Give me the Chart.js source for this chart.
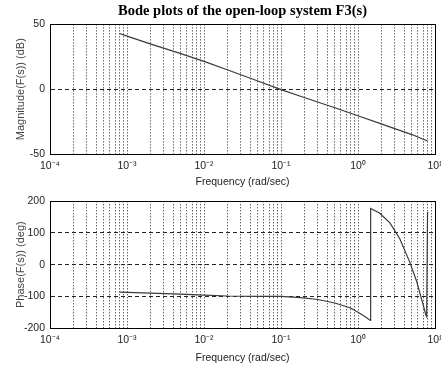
<!DOCTYPE html>
<html>
<head>
<meta charset="utf-8">
<script src="https://cdn.jsdelivr.net/npm/chart.js@4/dist/chart.umd.min.js"></script>
<style>
    html, body { margin: 0; padding: 0; background: #fff; }
    .box { position: absolute; left: 0; width: 441px; }
    #magBox { top: 0; height: 190px; }
    #phaseBox { top: 190px; height: 184px; }
</style>
</head>
<body>
<div class="box" id="magBox"><canvas id="magChart"></canvas></div>
<div class="box" id="phaseBox"><canvas id="phaseChart"></canvas></div>
<script>
// magnitude curve (rad/sec, dB)
const magFreq = [0.0008, 0.001, 0.002, 0.005, 0.01, 0.02, 0.05, 0.1, 0.2, 0.5, 1, 2, 5, 8];
const magDb = [43, 41, 35, 27.5, 21.5, 15, 6.3, -0.3, -6.4, -14.3, -20.5, -26.8, -35, -40];

// phase curve (rad/sec, deg)
const phaseFreq = [0.0008, 0.002, 0.005, 0.01, 0.02, 0.05, 0.1, 0.18, 0.3, 0.5, 0.8, 1.0, 1.2, 1.45,
    1.46, 1.9, 2.6, 3.5, 4.7, 5.8, 7.0, 7.6, 7.8, 8.0];
const phaseDeg = [-87, -90, -93, -96, -99, -100, -100, -104, -110, -121, -137, -150, -162, -176,
    177, 163, 132, 81, 8, -54, -126, -158, -164, 166];

const magTicks = [-50, 0, 50];
const phaseTicks = [-200, -100, 0, 100, 200];

const TEXT = "#222";
const SANS = "'Liberation Sans', Arial, sans-serif";
const SUP = { "-": "\u207B", "0": "\u2070", "1": "\u00B9", "2": "\u00B2", "3": "\u00B3", "4": "\u2074" };

// every 1..9 x 10^k line of the log grid
const freqGrid = [];
for (let k = -4; k <= 0; k++) {
    for (let s = 1; s <= 9; s++) freqGrid.push(s * Math.pow(10, k));
}
freqGrid.push(10);

function decadeLabel(v) {
    const e = Math.round(Math.log10(v));
    if (Math.abs(v - Math.pow(10, e)) > 1e-9 * Math.pow(10, e)) return "";
    return "10" + String(e).split("").map((c) => SUP[c]).join("");
}

const frame = {
    id: "frame",
    afterDraw(chart) {
        const { ctx, chartArea: a } = chart;
        ctx.save();
        ctx.strokeStyle = "#000";
        ctx.lineWidth = 1;
        ctx.strokeRect(Math.round(a.left) + 0.5, Math.round(a.top) + 0.5,
            Math.round(a.right - a.left), Math.round(a.bottom - a.top));
        ctx.restore();
    },
};

function makeChart(id, freq, vals, yTicks, yTitle, opts) {
    const ctx = document.getElementById(id);

    return new Chart(ctx, {
        type: "scatter",

        data: {
            datasets: [
                {
                    data: freq.map((f, i) => ({ x: f, y: vals[i] })),
                    showLine: true,
                    borderColor: "#3a3a3a",
                    borderWidth: 1.2,
                    pointRadius: 0,
                    tension: 0,
                },
            ],
        },

        options: {
            responsive: true,
            maintainAspectRatio: false,
            animation: false,

            layout: {
                padding: { top: opts.padTop, right: 6, bottom: 0, left: 0 },
            },

            plugins: {
                legend: { display: false },
                tooltip: { enabled: false },
                title: {
                    display: !!opts.title,
                    text: opts.title,
                    fullSize: false,
                    color: "#000",
                    font: { family: "'Liberation Serif', 'Times New Roman', serif", size: 14.5, weight: "bold" },
                    padding: { top: 3, bottom: 4 },
                },
            },

            scales: {
                x: {
                    type: "logarithmic",
                    min: 1e-4,
                    max: 10,
                    afterBuildTicks: (s) => {
                        s.ticks = freqGrid.map((v) => ({ value: v }));
                    },
                    afterFit: (s) => {
                        s.height = opts.xHeight;
                        s.paddingLeft = 0;
                        s.paddingRight = 0;
                    },
                    grid: { color: "#222", lineWidth: 1, drawTicks: false },
                    border: { dash: [1, 2], color: "#000" },
                    ticks: {
                        autoSkip: false,
                        maxRotation: 0,
                        padding: 6,
                        color: TEXT,
                        font: { family: SANS, size: 10.5 },
                        callback: (v) => decadeLabel(v),
                    },
                    title: {
                        display: true,
                        text: "Frequency (rad/sec)",
                        color: TEXT,
                        font: { family: SANS, size: 10.5 },
                        padding: { top: 0, bottom: opts.xTitlePad },
                    },
                },

                y: {
                    min: yTicks[0],
                    max: yTicks[yTicks.length - 1],
                    afterBuildTicks: (s) => {
                        s.ticks = yTicks.map((v) => ({ value: v }));
                    },
                    afterFit: (s) => {
                        s.width = 50;
                    },
                    grid: { color: "#222", lineWidth: 1, drawTicks: false },
                    border: { dash: [4, 3], color: "#000" },
                    ticks: {
                        padding: 5,
                        color: TEXT,
                        font: { family: SANS, size: 10.5 },
                    },
                    title: {
                        display: true,
                        text: yTitle,
                        color: "#444",
                        font: { family: SANS, size: 11 },
                        padding: { top: 14, bottom: 0 },
                    },
                },
            },
        },

        plugins: [frame],
    });
}

makeChart("magChart", magFreq, magDb, magTicks, "Magnitude(F(s)) (dB)", {
    title: "Bode plots of the open-loop system F3(s)",
    padTop: 0,
    xHeight: 36,
    xTitlePad: 2,
});

makeChart("phaseChart", phaseFreq, phaseDeg, phaseTicks, "Phase(F(s)) (deg)", {
    title: "",
    padTop: 10,
    xHeight: 46,
    xTitlePad: 10,
});
</script>
</body>
</html>
